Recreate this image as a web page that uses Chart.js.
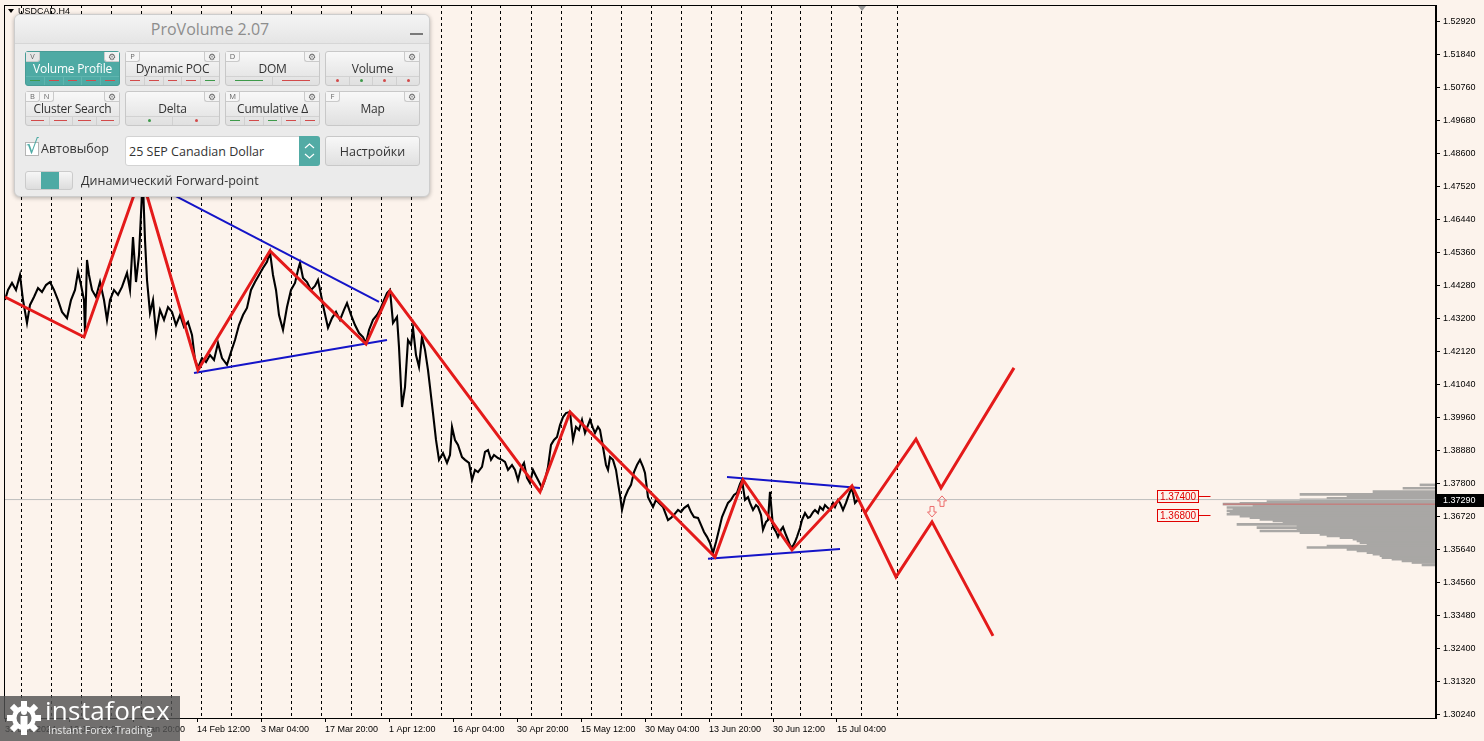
<!DOCTYPE html>
<html>
<head>
<meta charset="utf-8">
<script src="https://cdn.jsdelivr.net/npm/chart.js@4.4.1/dist/chart.umd.min.js"></script>
<style>
html, body { margin: 0; padding: 0; background: #fcf3ec; overflow: hidden; }
#wrap { position: relative; width: 1484px; height: 741px; }
#chart { position: absolute; left: 0; top: 0; }
.pv { position: absolute; left: 14px; top: 14px; width: 416px; height: 183px; box-sizing: border-box;
  background: #ebebeb; border: 1px solid #cdcdcd; border-radius: 6px; box-shadow: 0 1px 4px rgba(0,0,0,.3);
  font-family: "Open Sans", sans-serif; color: #333; overflow: hidden; }
.pv .ttl { position: absolute; left: 0; top: 0; width: 100%; height: 29px; box-sizing: border-box; padding-right: 24px;
  background: linear-gradient(#f4f4f4, #e5e5e5); border-bottom: 1px solid #d6d6d6; text-align: center;
  font-size: 16px; line-height: 29px; color: #8d8d8d; }
.pv .min { position: absolute; left: 395px; top: 18px; width: 13px; height: 2px; background: #7a7a7a; }
.btn { position: absolute; width: 95px; height: 35px; box-sizing: border-box; border: 1px solid #c8c8c8; border-radius: 3px;
  background: linear-gradient(#f8f8f8, #e0e0e0); }
.btn.on { background: #4eaaa4; border-color: #479c96; color: #fff; }
.btn .tab { position: absolute; top: 0; height: 9px; width: 13px; font-size: 7.5px; line-height: 9px; text-align: center; color: #666;
  background: #f6f6f6; border-right: 1px solid #cacaca; border-bottom: 1px solid #cacaca; border-bottom-right-radius: 3px; }
.btn.on .tab { background: #e6e6e6; }
.btn .gear { position: absolute; right: 0; top: 0; width: 14px; height: 9px; font-size: 8.5px; line-height: 9px; text-align: center;
  color: #666; background: #f3f3f3; border-left: 1px solid #cacaca; border-bottom: 1px solid #cacaca; border-bottom-left-radius: 3px; }
.btn .lbl { position: absolute; left: 0; right: 0; top: 9px; text-align: center; font-size: 12px; line-height: 16px; letter-spacing: -0.2px; }
.btn .strip { position: absolute; left: 0; right: 0; bottom: 0; height: 8px; display: flex; border-top: 1px solid #d2d2d2; }
.btn.on .strip { border-top-color: #5fb5af; }
.strip span { flex: 1; position: relative; border-left: 1px solid #d0d0d0; }
.btn.on .strip span { border-left-color: #5fb5af; }
.strip span:first-child { border-left: none; }
.strip .d::after { content: ''; position: absolute; left: 22%; right: 22%; top: 3px; height: 1px; background: currentColor; }
.strip .L::after { content: ''; position: absolute; left: 20%; right: 20%; top: 3px; height: 1px; background: currentColor; }
.strip .o::after { content: ''; position: absolute; left: 50%; top: 2px; width: 3px; height: 3px; margin-left: -1px; border-radius: 50%; background: currentColor; }
.strip .r { color: #d24a4a; } .strip .g { color: #3e9a4a; }
.chk { position: absolute; left: 10px; top: 127px; width: 12px; height: 12px; background: #fff; border: 1px solid #b5b5b5; }
.chkmark { position: absolute; left: 11px; top: 120px; font-size: 20px; line-height: 22px; color: #4eaaa4; font-family: "DejaVu Sans"; }
.txt { position: absolute; font-size: 12.5px; line-height: 16px; color: #333; white-space: nowrap; }
.sel { position: absolute; left: 110px; top: 121px; width: 195px; height: 30px; box-sizing: border-box; background: #fff;
  border: 1px solid #d3d3d3; border-radius: 3px; font-size: 12.5px; line-height: 30px; padding-left: 3px; }
.spin { position: absolute; right: -1px; top: -1px; width: 21px; height: 30px; background: #52aba5; border-radius: 0 3px 3px 0; }
.sbtn { position: absolute; left: 310px; top: 121px; width: 95px; height: 30px; box-sizing: border-box; border: 1px solid #c8c8c8;
  border-radius: 3px; background: linear-gradient(#f8f8f8, #e0e0e0); text-align: center; font-size: 12.5px; line-height: 30px; }
.tog { position: absolute; left: 10px; top: 156px; width: 48px; height: 19px; box-sizing: border-box; border: 1px solid #cbcbcb;
  border-radius: 3px; background: linear-gradient(#f6f6f6, #dddddd); overflow: hidden; }
.tog i { position: absolute; left: 15px; top: 0; width: 18px; height: 17px; background: #4eaaa4; }
.logo { position: absolute; left: 0; top: 696px; width: 180px; height: 45px; background: rgba(82,82,82,.82); color: #fff;
  font-family: "Open Sans", sans-serif; }
.logo .big { position: absolute; left: 45px; top: -2px; font-size: 26px; line-height: 32px; letter-spacing: 0.3px; }
.logo .small { position: absolute; left: 48px; top: 27px; font-size: 10.5px; line-height: 14px; color: #e8e8e8; }
.logo svg { position: absolute; left: 5px; top: 3px; }
</style>
</head>
<body>
<div id="wrap">
  <canvas id="chart" width="1484" height="741"></canvas>
  <div class="pv" id="pv">
    <div class="ttl">ProVolume 2.07</div>
    <div class="min"></div>
    <div class="chk"></div><div class="chkmark">√</div>
    <div class="txt" style="left:26px;top:126px">Автовыбор</div>
    <div class="sel">25 SEP Canadian Dollar
      <div class="spin"><svg width="21" height="30"><polyline points="6,12 10.5,8 15,12" fill="none" stroke="#fff" stroke-width="1.2"/><polyline points="6,18 10.5,22 15,18" fill="none" stroke="#fff" stroke-width="1.2"/></svg></div>
    </div>
    <div class="sbtn">Настройки</div>
    <div class="tog"><i></i></div>
    <div class="txt" style="left:66px;top:158px">Динамический Forward-point</div>
  </div>
  <div class="logo">
    <svg width="38" height="38" viewBox="0 0 38 38">
      <g fill="#fff" transform="translate(19,19)">
        <rect x="-3" y="-17" width="6" height="8"/>
        <rect x="-3" y="-17" width="6" height="8" transform="rotate(45)"/>
        <rect x="-3" y="-17" width="6" height="8" transform="rotate(90)"/>
        <rect x="-3" y="-17" width="6" height="8" transform="rotate(135)"/>
        <rect x="-3" y="-17" width="6" height="8" transform="rotate(180)"/>
        <rect x="-3" y="-17" width="6" height="8" transform="rotate(225)"/>
        <rect x="-3" y="-17" width="6" height="8" transform="rotate(270)"/>
        <rect x="-3" y="-17" width="6" height="8" transform="rotate(315)"/>
        <circle r="12"/>
      </g>
      <circle cx="19" cy="19" r="7.5" fill="#6a6a6a"/>
      <circle cx="19" cy="13" r="3" fill="#fff"/>
      <rect x="15.5" y="17" width="7" height="13" fill="#fff"/>
    </svg>
    <div class="big">instaforex</div>
    <div class="small">Instant Forex Trading</div>
  </div>
</div>
<script>
// USDCAD H4, bar index along x (one bar per pixel as on the terminal)
const priceBars = [
  0,3,7,11,15,18,22,25,29,33,37,41,45,49,53,57,62,66,70,73,76,79,80,82,84,87,91,95,99,102,105,109,113,117,122,125,128,131,134,137,138,140,142,145,148,151,155,159,163,167,171,175,179,183,187,190,193,
  197,201,205,209,213,217,222,226,230,234,238,242,246,250,254,258,262,265,268,271,274,278,282,286,290,293,295,298,302,306,310,313,316,319,323,327,331,335,339,342,346,350,354,358,361,364,368,372,375,379,382,385,
  388,392,394,397,400,403,406,408,411,414,417,420,423,425,428,431,434,438,442,445,447,450,453,457,460,464,467,470,473,477,480,483,486,489,493,497,500,503,507,510,513,516,519,522,525,528,531,534,537,540,543,546,549,552,555,558,561,565,
  568,571,574,577,580,583,585,588,590,593,595,598,601,603,605,608,611,613,615,617,620,623,626,629,632,635,638,640,643,646,648,651,654,658,661,663,666,669,673,676,679,683,686,689,693,696,699,702,705,708,711,714,717,720,723,726,729,732,735,737,
  740,743,745,748,751,753,756,758,761,763,765,768,771,773,776,778,781,783,785,787,790,792,795,797,800,803,805,808,810,813,815,818,820,823,825,828,830,833,835,838,841,843,845,847,850,853
];
const priceClose = [
  1.4382,1.4415,1.4438,1.4415,1.4464,1.4382,1.4307,1.4366,1.4392,1.4421,1.4408,1.4431,1.4441,1.4415,1.4382,1.4343,1.4323,1.4382,1.4415,1.4474,1.4431,1.4382,1.4274,1.4513,1.4464,1.4415,1.4392,1.4441,1.4382,1.4317,1.4382,1.4415,1.4399,1.4425,1.4471,1.4415,1.4588,1.4441,1.4529,1.4732,1.4759,1.4579,1.4448,1.4340,1.4382,1.4274,1.4350,1.4317,1.4359,1.4343,1.4300,1.4333,1.4294,1.4310,1.4268,1.4186,1.4160,
  1.4192,1.4179,1.4202,1.4186,1.4241,1.4192,1.4170,1.4212,1.4251,1.4300,1.4333,1.4356,1.4415,1.4441,1.4464,1.4487,1.4507,1.4539,1.4464,1.4415,1.4333,1.4284,1.4359,1.4415,1.4438,1.4480,1.4503,1.4454,1.4441,1.4415,1.4428,1.4448,1.4399,1.4350,1.4291,1.4323,1.4343,1.4317,1.4350,1.4372,1.4333,1.4300,1.4274,1.4261,1.4241,1.4284,1.4317,1.4333,1.4350,1.4382,1.4405,1.4415,
  1.4307,1.4327,1.4228,1.4032,1.4097,1.4251,1.4235,1.4291,1.4202,1.4163,1.4261,1.4219,1.4153,1.4097,1.4012,1.3924,1.3859,1.3881,1.3849,1.3875,1.3967,1.3924,1.3908,1.3868,1.3859,1.3849,1.3793,1.3826,1.3819,1.3836,1.3885,1.3891,1.3859,1.3875,1.3865,1.3859,1.3852,1.3826,1.3842,1.3826,1.3793,1.3832,1.3849,1.3800,1.3783,1.3826,1.3806,1.3787,1.3767,1.3793,1.3836,1.3908,1.3924,1.3934,1.3973,1.3999,1.4012,1.4016,
  1.3924,1.3967,1.3957,1.3990,1.3947,1.3973,1.3990,1.3963,1.3947,1.3967,1.3957,1.3901,1.3842,1.3826,1.3868,1.3859,1.3826,1.3783,1.3744,1.3695,1.3737,1.3760,1.3777,1.3819,1.3842,1.3859,1.3836,1.3816,1.3737,1.3718,1.3705,1.3728,1.3718,1.3705,1.3679,1.3662,1.3669,1.3679,1.3695,1.3688,1.3701,1.3711,1.3688,1.3672,1.3669,1.3646,1.3623,1.3607,1.3587,1.3554,1.3590,1.3630,1.3672,1.3695,1.3718,1.3728,1.3744,1.3751,1.3780,1.3793,
  1.3728,1.3737,1.3718,1.3695,1.3711,1.3705,1.3679,1.3630,1.3656,1.3662,1.3754,1.3639,1.3623,1.3607,1.3630,1.3639,1.3613,1.3597,1.3580,1.3571,1.3590,1.3607,1.3636,1.3662,1.3685,1.3669,1.3672,1.3688,1.3695,1.3685,1.3705,1.3695,1.3711,1.3701,1.3695,1.3718,1.3705,1.3728,1.3718,1.3695,1.3718,1.3737,1.3754,1.3767,1.3718,1.3729
];

// zigzag with the bearish forecast branch
const zigBars   = [0, 79, 136, 193, 265, 361, 385, 535, 565, 710, 738, 787, 847, 891, 927, 988];
const zigPrices = [1.4392, 1.4261, 1.4791, 1.4153, 1.4543, 1.4238, 1.4412, 1.3754, 1.4016, 1.3541, 1.3793, 1.3564, 1.3774, 1.3476, 1.3656, 1.3283];
// bullish forecast branch
const upBars   = [860, 911, 936, 1009];
const upPrices = [1.3685, 1.3927, 1.3767, 1.4160];

// blue trend lines [startBar, startPrice, endBar, endPrice]
const trendLines = [
  [165, 1.4732, 374, 1.4376],
  [189, 1.4143, 382, 1.4251],
  [722, 1.3803, 855, 1.3767],
  [703, 1.3535, 835, 1.3567]
];

// volume profile (price level -> bar where the row starts, rows end on the right edge)
const profPrices = [1.3777,1.3766,1.3755,1.3746,1.3741,1.3733,1.3728,1.3722,1.3717,1.3714,1.3708,1.3703,1.3697,1.3692,1.3686,1.3681,1.3675,1.3670,1.3664,1.3659,1.3653,1.3648,1.3643,1.3637,1.3632,1.3626,1.3621,1.3615,1.3610,1.3604,1.3599,1.3594,1.3588,1.3583,1.3577,1.3572,1.3566,1.3561,1.3555,1.3550,1.3545,1.3539,1.3534,1.3528,1.3523,1.3515];
const profStart  = [1415,1398,1368,1295,1342,1322,1295,1262,1235,1218,1248,1222,1228,1222,1225,1222,1235,1245,1255,1268,1278,1232,1292,1252,1292,1255,1295,1315,1322,1335,1348,1352,1355,1362,1322,1302,1342,1352,1362,1368,1375,1377,1387,1397,1407,1417];
const pocPrice = 1.3714;
const pocStart = 1218;

const bidPrice = 1.3729;
const levelPrices = [1.3740, 1.3680];
const levelBar = 1152;
const arrowUp = [937, 1.3723];
const arrowDown = [927, 1.3690];

const xTickBars = [0, 64, 128, 192, 256, 320, 384, 448, 512, 576, 640, 704, 768, 832];
const xTickLabels = ['31 Dec 2024', '16 Jan 04:00', '30 Jan 20:00', '14 Feb 12:00', '3 Mar 04:00', '17 Mar 20:00', '1 Apr 12:00',
  '16 Apr 04:00', '30 Apr 20:00', '15 May 12:00', '30 May 04:00', '13 Jun 20:00', '30 Jun 12:00', '15 Jul 04:00'];
const sepBars = [16,46,76,106,136,166,196,226,256,286,316,346,376,406,436,466,496,526,556,586,616,646,676,706,736,766,796,826,856,892];
const yTicks = [1.30240,1.31320,1.32400,1.33480,1.34560,1.35640,1.36720,1.37800,1.38880,1.39960,1.41040,
  1.42120,1.43200,1.44280,1.45360,1.46440,1.47520,1.48600,1.49680,1.50760,1.51840,1.52920];

const X_MIN = -1, X_MAX = 1431;

// ---- panel buttons
const pvButtons = [
  {t: 'Volume Profile', tabs: ['V'], on: true, strip: ['dg','dr','dr','dr','dr']},
  {t: 'Dynamic POC', tabs: ['P'], strip: ['dr','dr','dr','dr','dg']},
  {t: 'DOM', tabs: ['D'], strip: ['Lg','Lr']},
  {t: 'Volume', tabs: [], strip: ['or','og','or','or']},
  {t: 'Cluster Search', tabs: ['B','N'], strip: ['dr','dr','dr','dr']},
  {t: 'Delta', tabs: [], strip: ['og','or']},
  {t: 'Cumulative Δ', tabs: ['M'], strip: ['dg','dr','dg','dr','dr']},
  {t: 'Map', tabs: ['F'], strip: []}
];
const pv = document.getElementById('pv');
pvButtons.forEach(function (b, i) {
  const el = document.createElement('div');
  el.className = 'btn' + (b.on ? ' on' : '');
  el.style.left = (10 + (i % 4) * 100) + 'px';
  el.style.top = (36 + Math.floor(i / 4) * 40) + 'px';
  let html = '';
  b.tabs.forEach(function (t, k) { html += '<span class="tab" style="left:' + (k * 14) + 'px">' + t + '</span>'; });
  html += '<span class="gear">⚙</span>';
  html += '<span class="lbl">' + b.t + '</span>';
  if (b.strip.length) {
    html += '<div class="strip">' + b.strip.map(function (s) {
      return '<span class="' + s[0] + ' ' + s[1] + '"></span>';
    }).join('') + '</div>';
  }
  el.innerHTML = html;
  pv.appendChild(el);
});

// ---- chart
Chart.defaults.font.family = '"Liberation Sans", Arial, sans-serif';
Chart.defaults.font.size = 9;
Chart.defaults.color = '#000';

function pts(xs, ys) { return xs.map(function (v, i) { return {x: v, y: ys[i]}; }); }

const datasets = [];
datasets.push({ data: pts(zigBars, zigPrices), borderColor: '#e41a1a', borderWidth: 3, borderJoinStyle: 'miter' });
datasets.push({ data: pts(upBars, upPrices), borderColor: '#e41a1a', borderWidth: 3, borderJoinStyle: 'miter' });
trendLines.forEach(function (l) {
  datasets.push({ data: [{x: l[0], y: l[1]}, {x: l[2], y: l[3]}], borderColor: '#1414c8', borderWidth: 2 });
});
datasets.push({ data: pts(priceBars, priceClose), borderColor: '#000', borderWidth: 2.1 });
datasets.push({ data: [{x: pocStart, y: pocPrice}, {x: X_MAX, y: pocPrice}], borderColor: '#cf6e6e', borderWidth: 1 });
datasets.push({ data: [{x: X_MIN, y: bidPrice}, {x: X_MAX, y: bidPrice}], borderColor: '#bdbdbd', borderWidth: 1 });
datasets.push({
  type: 'bar', indexAxis: 'y',
  data: profPrices.map(function (p, i) { return {y: p, x: [profStart[i], X_MAX]}; }),
  backgroundColor: '#a9a7a5', barThickness: 2, borderWidth: 0, grouped: false
});

function drawArrow(ctx, cx, cy, up) {
  const s = up ? 1 : -1;
  ctx.beginPath();
  ctx.moveTo(cx, cy - 5.5 * s);
  ctx.lineTo(cx + 4.5, cy - 0.5 * s);
  ctx.lineTo(cx + 2, cy - 0.5 * s);
  ctx.lineTo(cx + 2, cy + 5 * s);
  ctx.lineTo(cx - 2, cy + 5 * s);
  ctx.lineTo(cx - 2, cy - 0.5 * s);
  ctx.lineTo(cx - 4.5, cy - 0.5 * s);
  ctx.closePath();
  ctx.stroke();
}

const decor = {
  id: 'decor',
  beforeDraw(c) {
    const ctx = c.ctx;
    ctx.save();
    ctx.fillStyle = '#fcf3ec';
    ctx.fillRect(0, 0, c.width, c.height);
    ctx.restore();
  },
  afterDraw(c) {
    const ctx = c.ctx, a = c.chartArea, x = c.scales.x, y = c.scales.y;
    ctx.save();
    ctx.strokeStyle = '#000';
    ctx.lineWidth = 1;
    ctx.strokeRect(a.left + 0.5, a.top + 0.5, a.right - a.left - 1, a.bottom - a.top);

    // symbol caption
    ctx.fillStyle = '#000';
    ctx.beginPath(); ctx.moveTo(8, 9); ctx.lineTo(14, 9); ctx.lineTo(11, 13); ctx.closePath(); ctx.fill();
    ctx.font = '9px "Liberation Sans"';
    ctx.textBaseline = 'middle';
    ctx.fillText('USDCAD,H4', 18, 11.5);

    // chart shift marker
    const sx = x.getPixelForValue(857);
    ctx.fillStyle = '#9a9a9a';
    ctx.beginPath(); ctx.moveTo(sx - 4, a.top + 1); ctx.lineTo(sx + 4, a.top + 1); ctx.lineTo(sx, a.top + 6); ctx.closePath(); ctx.fill();

    // price level labels
    ctx.font = '10px "Liberation Sans"';
    levelPrices.forEach(function (p) {
      const py = Math.round(y.getPixelForValue(p)) + 0.5;
      const lx = Math.round(x.getPixelForValue(levelBar)) + 0.5;
      ctx.strokeStyle = '#e00000';
      ctx.strokeRect(lx, py - 6, 41, 12);
      ctx.beginPath(); ctx.moveTo(lx + 41, py); ctx.lineTo(lx + 53, py); ctx.stroke();
      ctx.fillStyle = '#e00000';
      ctx.fillText(p.toFixed(5), lx + 2.5, py + 0.5);
    });

    // forecast arrows
    ctx.strokeStyle = '#ec6c6c';
    ctx.lineWidth = 1;
    drawArrow(ctx, x.getPixelForValue(arrowUp[0]), y.getPixelForValue(arrowUp[1]), true);
    drawArrow(ctx, x.getPixelForValue(arrowDown[0]), y.getPixelForValue(arrowDown[1]), false);

    // current price tag
    const by = Math.round(y.getPixelForValue(bidPrice));
    ctx.fillStyle = '#000';
    ctx.fillRect(a.right + 1, by - 6, 48, 13);
    ctx.fillStyle = '#fff';
    ctx.font = '9px "Liberation Sans"';
    ctx.fillText(bidPrice.toFixed(5), a.right + 7, by + 0.5);
    ctx.restore();
  }
};

new Chart(document.getElementById('chart'), {
  type: 'line',
  data: { datasets: datasets },
  options: {
    responsive: false,
    animation: false,
    layout: { padding: { left: 4, top: 5, right: 0, bottom: 0 } },
    elements: { point: { radius: 0 }, line: { tension: 0 } },
    plugins: { legend: { display: false }, tooltip: { enabled: false } },
    scales: {
      x: {
        type: 'linear', position: 'bottom', min: X_MIN, max: X_MAX, offset: false, beginAtZero: false,
        afterBuildTicks: function (s) { s.ticks = xTickBars.map(function (v) { return {value: v}; }); },
        afterFit: function (s) { s.height = 23; s.paddingLeft = 0; s.paddingRight = 0; },
        ticks: { autoSkip: false, maxRotation: 0, align: 'start', padding: 2,
          callback: function (v, i) { return xTickLabels[i]; } },
        grid: { drawOnChartArea: false, drawTicks: true, tickLength: 4, color: '#000', offset: false },
        border: { display: true, color: '#000' }
      },
      sep: {
        type: 'linear', position: 'top', min: X_MIN, max: X_MAX, offset: false,
        afterBuildTicks: function (s) { s.ticks = sepBars.map(function (v) { return {value: v}; }); },
        afterFit: function (s) { s.height = 0; s.paddingLeft = 0; s.paddingRight = 0; },
        ticks: { display: false },
        grid: { drawOnChartArea: true, drawTicks: false, color: '#000', lineWidth: 1, offset: false },
        border: { display: false, dash: [3, 3] }
      },
      y: {
        type: 'linear', position: 'right', min: 1.30141, max: 1.53476, offset: false,
        afterBuildTicks: function (s) { s.ticks = yTicks.map(function (v) { return {value: v}; }); },
        afterFit: function (s) { s.width = 48; s.paddingTop = 0; s.paddingBottom = 0; },
        ticks: { padding: 3, callback: function (v) { return v.toFixed(5); } },
        grid: { drawOnChartArea: false, drawTicks: true, tickLength: 4, color: '#000', offset: false },
        border: { display: true, color: '#000' }
      }
    }
  },
  plugins: [decor]
});
</script>
</body>
</html>
